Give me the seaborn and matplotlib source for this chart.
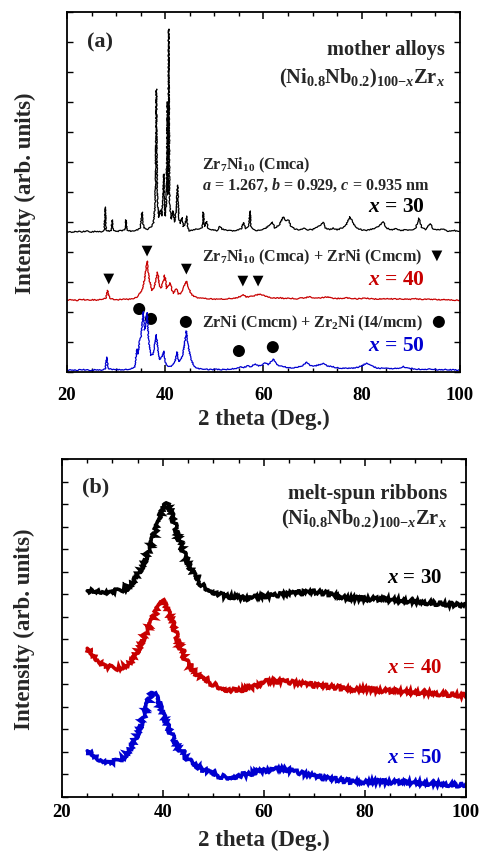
import matplotlib
matplotlib.use('Agg')
import matplotlib.pyplot as plt
import seaborn as sns
from matplotlib.ticker import MultipleLocator

# ---------------- Panel (a): mother alloys (offset intensities, arb. units) ----------------
tt_a30 = [20, 21, 22, 23, 24, 25, 26, 27, 27.6, 27.8,
          28.0, 28.6, 29.0, 29.2, 29.4, 30.2, 31.0, 31.8, 32.0, 32.2,
          33.0, 34.0, 34.9, 35.3, 35.6, 36.4, 37.0, 37.6, 37.95, 38.2,
          38.4, 38.65, 39.0, 39.3, 39.7, 39.95, 40.2, 40.45, 40.55, 40.7,
          40.9, 41.2, 41.6, 41.85, 42.2, 42.5, 42.8, 43.1, 43.4, 43.7,
          44.1, 44.35, 44.6, 44.9, 45.8, 46.8, 47.5, 47.75, 48.0, 48.4,
          48.7, 49.5, 50.5, 51.1, 51.6, 52.5, 53.5, 54.5, 55.5, 55.9,
          56.4, 57.0, 57.25, 57.5, 58.5, 59.5, 60.3, 61.3, 61.8, 62.3,
          63.2, 64.0, 64.5, 65.1, 65.6, 66.5, 67.5, 68.1, 69.0, 70.0,
          71.2, 72.2, 72.6, 73.5, 74.2, 75.0, 76.0, 76.8, 77.6, 78.3,
          79.0, 80.0, 81.0, 82.0, 83.1, 84.4, 85.0, 86.0, 87.1, 88.0,
          89.0, 90.0, 91.0, 91.6, 92.2, 93.0, 93.9, 94.5, 95.5, 96.5,
          97.5, 98.7, 100]
int_a30 = [4.68, 4.66, 4.69, 4.67, 4.70, 4.67, 4.69, 4.68, 4.72, 5.50,
           4.72, 4.70, 4.73, 5.07, 4.72, 4.69, 4.71, 4.73, 5.07, 4.73,
           4.70, 4.72, 4.78, 5.33, 4.80, 4.76, 4.82, 4.95, 5.60, 9.43,
           5.80, 5.15, 5.40, 5.20, 6.60, 5.20, 5.50, 9.00, 5.90, 11.43,
           5.60, 5.10, 5.37, 5.00, 5.30, 6.23, 5.10, 4.95, 5.15, 4.85,
           4.95, 5.20, 4.82, 4.70, 4.74, 4.78, 4.80, 5.33, 4.85, 5.02,
           4.80, 4.74, 4.71, 4.85, 4.76, 4.72, 4.70, 4.73, 4.78, 4.98,
           4.78, 4.85, 5.37, 4.82, 4.72, 4.74, 4.78, 4.90, 5.00, 4.80,
           4.90, 5.17, 5.05, 5.07, 4.85, 4.76, 4.73, 4.80, 4.74, 4.75,
           4.85, 4.98, 4.80, 4.74, 4.80, 4.74, 4.80, 4.90, 5.17, 4.95,
           4.80, 4.74, 4.72, 4.76, 4.82, 5.00, 4.80, 4.74, 4.78, 4.72,
           4.74, 4.72, 4.80, 5.13, 4.82, 4.75, 4.95, 4.78, 4.74, 4.76,
           4.70, 4.72, 4.68]

tt_a40 = [20, 21, 22, 23, 24, 25, 26, 27, 27.9, 28.3,
          28.7, 29.5, 30.5, 31.5, 32.5, 33.5, 34.2, 34.8, 35.3, 35.8,
          36.3, 36.7, 37.3, 37.8, 38.45, 38.8, 39.1, 39.5, 39.9, 40.3,
          40.6, 41.0, 41.4, 41.7, 42.25, 42.7, 43.1, 43.6, 44.3, 44.8,
          45.2, 45.8, 46.8, 48, 49, 50, 51, 52, 53, 54,
          55, 55.9, 56.5, 57.5, 58.5, 59.3, 60.0, 60.6, 61.5, 62.5,
          63.5, 64.5, 65.5, 66.5, 67.5, 68.5, 69.4, 70.2, 71.0, 72.0,
          72.9, 74.0, 75.0, 76.0, 77.0, 78.0, 79.0, 80.0, 81.0, 82.0,
          83.5, 85.0, 86.5, 88.0, 89.5, 91.0, 92.5, 94.0, 95.5, 97.0,
          98.5, 100]
int_a40 = [2.40, 2.41, 2.39, 2.42, 2.40, 2.41, 2.40, 2.43, 2.45, 2.72,
           2.46, 2.42, 2.41, 2.43, 2.42, 2.45, 2.50, 2.62, 2.75, 3.10,
           3.70, 3.10, 2.72, 2.85, 3.33, 2.90, 2.80, 2.95, 3.23, 2.78,
           2.85, 2.97, 2.72, 2.62, 2.77, 2.60, 2.62, 2.78, 3.03, 2.80,
           2.62, 2.52, 2.46, 2.45, 2.44, 2.43, 2.44, 2.43, 2.45, 2.46,
           2.50, 2.57, 2.50, 2.52, 2.56, 2.60, 2.55, 2.52, 2.48, 2.46,
           2.47, 2.45, 2.46, 2.44, 2.46, 2.47, 2.52, 2.47, 2.46, 2.48,
           2.50, 2.46, 2.45, 2.46, 2.47, 2.45, 2.44, 2.45, 2.46, 2.44,
           2.43, 2.45, 2.43, 2.44, 2.42, 2.44, 2.42, 2.43, 2.41, 2.42,
           2.40, 2.39]

tt_a50 = [20, 21, 22, 23, 24, 25, 26, 27, 27.8, 28.1,
          28.4, 29.0, 30, 31, 32, 33, 33.8, 34.25, 34.5, 34.8,
          35.1, 35.5, 35.8, 36.05, 36.3, 36.6, 37.0, 37.5, 38.2, 38.6,
          38.9, 39.3, 39.7, 40.0, 40.35, 41.0, 41.6, 42.0, 42.4, 42.7,
          43.1, 43.6, 44.3, 44.7, 45.2, 45.8, 46.5, 47.5, 48.5, 49.5,
          50.5, 51.5, 52.5, 53.5, 54.5, 55.2, 56.0, 56.8, 57.5, 58.3,
          59.0, 59.6, 60.3, 61.0, 62.0, 62.6, 63.3, 64.2, 65.0, 66.0,
          67.0, 68.0, 68.8, 69.5, 70.5, 71.5, 72.2, 73.0, 74.0, 74.9,
          76.0, 77.0, 78.0, 79.0, 80.0, 81.0, 82.0, 83.0, 84.5, 86.0,
          87.5, 88.5, 89.5, 91.0, 92.5, 94.0, 95.5, 97.0, 98.5, 100]
int_a50 = [0.06, 0.07, 0.06, 0.08, 0.07, 0.06, 0.08, 0.07, 0.10, 0.50,
           0.12, 0.09, 0.08, 0.07, 0.09, 0.10, 0.18, 0.77, 0.60, 1.10,
           1.20, 2.02, 1.40, 1.60, 1.98, 1.10, 0.55, 0.60, 1.25, 0.55,
           0.42, 0.50, 0.70, 0.35, 0.22, 0.18, 0.25, 0.35, 0.67, 0.35,
           0.40, 0.60, 1.37, 0.85, 0.45, 0.22, 0.12, 0.10, 0.09, 0.08,
           0.09, 0.08, 0.09, 0.10, 0.12, 0.18, 0.15, 0.20, 0.18, 0.28,
           0.20, 0.22, 0.30, 0.25, 0.43, 0.28, 0.20, 0.18, 0.15, 0.14,
           0.17, 0.22, 0.33, 0.22, 0.20, 0.25, 0.28, 0.20, 0.18, 0.14,
           0.13, 0.12, 0.13, 0.15, 0.20, 0.30, 0.20, 0.14, 0.12, 0.11,
           0.12, 0.18, 0.12, 0.10, 0.09, 0.10, 0.08, 0.08, 0.07, 0.06]

# phase markers (2theta, height)
tri_tt = [28.5, 36.3, 44.3, 55.8, 58.9, 95.3]
tri_y = [3.10, 4.03, 3.43, 3.03, 3.03, 3.87]
dot_tt = [34.7, 37.1, 44.2, 55.0, 61.9, 95.7]
dot_y = [2.10, 1.77, 1.67, 0.70, 0.83, 1.67]

# ---------------- Panel (b): melt-spun ribbons ----------------
tt_b30 = [25, 27, 29, 31, 33, 34.5, 36, 37.5, 38.5, 39.5,
          40.2, 40.8, 41.5, 42.3, 43.1, 44.0, 45.1, 46.3, 47.7, 49.5,
          51.7, 54, 57, 60, 63.8, 66, 70.4, 73, 77, 80,
          83.6, 87, 90.2, 95, 100]
int_b30 = [9.15, 9.15, 9.12, 9.15, 9.25, 9.70, 10.30, 11.10, 11.80, 12.50,
           12.90, 13.00, 12.70, 12.10, 11.50, 10.90, 10.30, 9.80, 9.40, 9.15,
           8.95, 8.88, 8.82, 8.92, 9.00, 9.05, 9.10, 9.02, 8.82, 8.80,
           8.78, 8.72, 8.67, 8.58, 8.50]

tt_b40 = [25, 26, 27.3, 29, 30.5, 32, 33.2, 34.5, 35.8, 36.8,
          37.8, 38.8, 39.8, 40.5, 41.2, 41.8, 42.6, 43.4, 44.4, 46,
          47.7, 49.5, 51, 52.5, 54.3, 56.3, 58.2, 60.5, 63.8, 67,
          70.4, 74, 77, 80.4, 83.6, 87, 90.2, 95, 100]
int_b40 = [6.60, 6.35, 6.05, 5.80, 5.70, 5.75, 5.90, 6.30, 6.90, 7.35,
           7.80, 8.30, 8.75, 8.50, 8.10, 7.80, 7.20, 6.65, 6.10, 5.60,
           5.25, 5.05, 4.90, 4.78, 4.72, 4.80, 4.92, 5.12, 5.15, 5.05,
           4.95, 4.88, 4.80, 4.78, 4.72, 4.68, 4.65, 4.58, 4.50]

tt_b50 = [25, 26, 27.3, 28.5, 29.9, 31.2, 32.5, 33.5, 34.5, 35.4,
          36.2, 37.0, 37.6, 38.2, 38.8, 39.3, 39.8, 40.8, 41.8, 43,
          44.4, 46, 47.7, 49.5, 51.7, 53.5, 55, 57, 59, 61,
          63.8, 66.5, 70.4, 74, 77, 80.4, 83.6, 87, 90.2, 95, 100]
int_b50 = [2.05, 1.90, 1.70, 1.60, 1.55, 1.62, 1.80, 2.15, 2.60, 3.10,
           3.60, 4.15, 4.55, 4.60, 4.45, 4.10, 3.75, 3.20, 2.70, 2.20,
           1.80, 1.45, 1.25, 1.05, 0.90, 0.88, 0.95, 1.02, 1.15, 1.20,
           1.25, 1.12, 0.90, 0.78, 0.70, 0.68, 0.68, 0.65, 0.63, 0.58, 0.52]

BLACK = '#000000'
RED = '#C80000'
BLUE = '#0000D0'

sns.set_theme(style='ticks')
plt.rcParams['font.family'] = ['Liberation Serif', 'DejaVu Serif']
plt.rcParams['font.weight'] = 'bold'
plt.rcParams['mathtext.fontset'] = 'custom'
plt.rcParams['mathtext.rm'] = 'Liberation Serif:bold'
plt.rcParams['mathtext.it'] = 'Liberation Serif:italic:bold'
plt.rcParams['mathtext.bf'] = 'Liberation Serif:bold'
plt.rcParams['axes.linewidth'] = 1.3

fig = plt.figure(figsize=(4.84, 8.53), dpi=100)
axA = fig.add_axes([0.1384, 0.5627, 0.8120, 0.4221])
axB = fig.add_axes([0.1281, 0.0645, 0.8347, 0.3962])

for tt, yy, c in [(tt_a30, int_a30, BLACK), (tt_a40, int_a40, RED), (tt_a50, int_a50, BLUE)]:
    sns.lineplot(x=tt, y=yy, ax=axA, color=c, linewidth=0.9, estimator=None, sort=False)
for ln in axA.get_lines():
    ln.set_sketch_params(scale=0.5, length=1.5, randomness=3)
sns.scatterplot(x=tri_tt, y=tri_y, ax=axA, marker='v', color='black', s=60, edgecolor='none')
sns.scatterplot(x=dot_tt, y=dot_y, ax=axA, marker='o', color='black', s=75, edgecolor='none')

for tt, yy, c in [(tt_b30, int_b30, BLACK), (tt_b40, int_b40, RED), (tt_b50, int_b50, BLUE)]:
    sns.lineplot(x=tt, y=yy, ax=axB, color=c, linewidth=2.6, estimator=None, sort=False,
                 solid_joinstyle='miter')
for ln in axB.get_lines():
    ln.set_sketch_params(scale=2.0, length=0.5, randomness=4)

axA.set_xlim(20, 100)
axA.set_ylim(0, 12)
axB.set_xlim(20, 100)
axB.set_ylim(0, 15)

for ax, pad in [(axA, 10), (axB, 4)]:
    ax.xaxis.set_major_locator(MultipleLocator(20))
    ax.xaxis.set_minor_locator(MultipleLocator(5))
    ax.yaxis.set_major_locator(MultipleLocator(1))
    ax.tick_params(which='both', direction='in', top=True, right=True, colors='black')
    ax.tick_params(which='major', axis='x', length=5, width=1.1, pad=pad, labelsize=13.5)
    ax.tick_params(which='minor', axis='x', length=3, width=1.0)
    ax.tick_params(which='major', axis='y', length=4, width=1.0, labelleft=False)
    for sp in ax.spines.values():
        sp.set_color('black')
        sp.set_linewidth(1.3)
    ax.set_xlabel('2 theta (Deg.)', fontsize=16.5, fontweight='bold')
    ax.set_ylabel('Intensity (arb. units)', fontsize=16.5, fontweight='bold')

axA.xaxis.set_label_coords(0.5, -0.100)
axA.yaxis.set_label_coords(-0.080, 0.5)
axB.xaxis.set_label_coords(0.5, -0.095)
axB.yaxis.set_label_coords(-0.066, 0.5)

formula = r'(Ni$_{0.8}$Nb$_{0.2}$)$_{100\mathrm{-}x}$Zr$_{x}$'

# panel (a) annotations
axA.text(24.0, 11.0, '(a)', fontsize=16, ha='left', va='center')
axA.text(96.9, 10.77, 'mother alloys', fontsize=14.7, ha='right', va='center')
axA.text(96.9, 9.83, formula, fontsize=14.7, ha='right', va='center')
axA.text(47.5, 6.93, r'Zr$_{7}$Ni$_{10}$ (Cmca)', fontsize=11.6, ha='left', va='center')
axA.text(47.5, 6.27, r'$a$ = 1.267, $b$ = 0.929, $c$ = 0.935 nm', fontsize=11.6, ha='left', va='center')
axA.text(92.9, 5.53, r'$x$ = 30', fontsize=15.5, ha='right', va='center', color=BLACK)
axA.text(92.3, 3.87, r'Zr$_{7}$Ni$_{10}$ (Cmca) + ZrNi (Cmcm)', fontsize=11.6, ha='right', va='center')
axA.text(92.9, 3.10, r'$x$ = 40', fontsize=15.5, ha='right', va='center', color=RED)
axA.text(92.5, 1.67, r'ZrNi (Cmcm) + Zr$_{2}$Ni (I4/mcm)', fontsize=11.6, ha='right', va='center')
axA.text(92.9, 0.90, r'$x$ = 50', fontsize=15.5, ha='right', va='center', color=BLUE)

# panel (b) annotations
axB.text(24.0, 13.8, '(b)', fontsize=16, ha='left', va='center')
axB.text(96.2, 13.47, 'melt-spun ribbons', fontsize=14.7, ha='right', va='center')
axB.text(96.2, 12.36, formula, fontsize=14.7, ha='right', va='center')
axB.text(95.2, 9.78, r'$x$ = 30', fontsize=15, ha='right', va='center', color=BLACK)
axB.text(95.2, 5.78, r'$x$ = 40', fontsize=15, ha='right', va='center', color=RED)
axB.text(95.2, 1.78, r'$x$ = 50', fontsize=15, ha='right', va='center', color=BLUE)

for ax in (axA, axB):
    for lab in ax.get_xticklabels():
        lab.set_fontweight('bold')

fig.savefig('out.png', dpi=100)
